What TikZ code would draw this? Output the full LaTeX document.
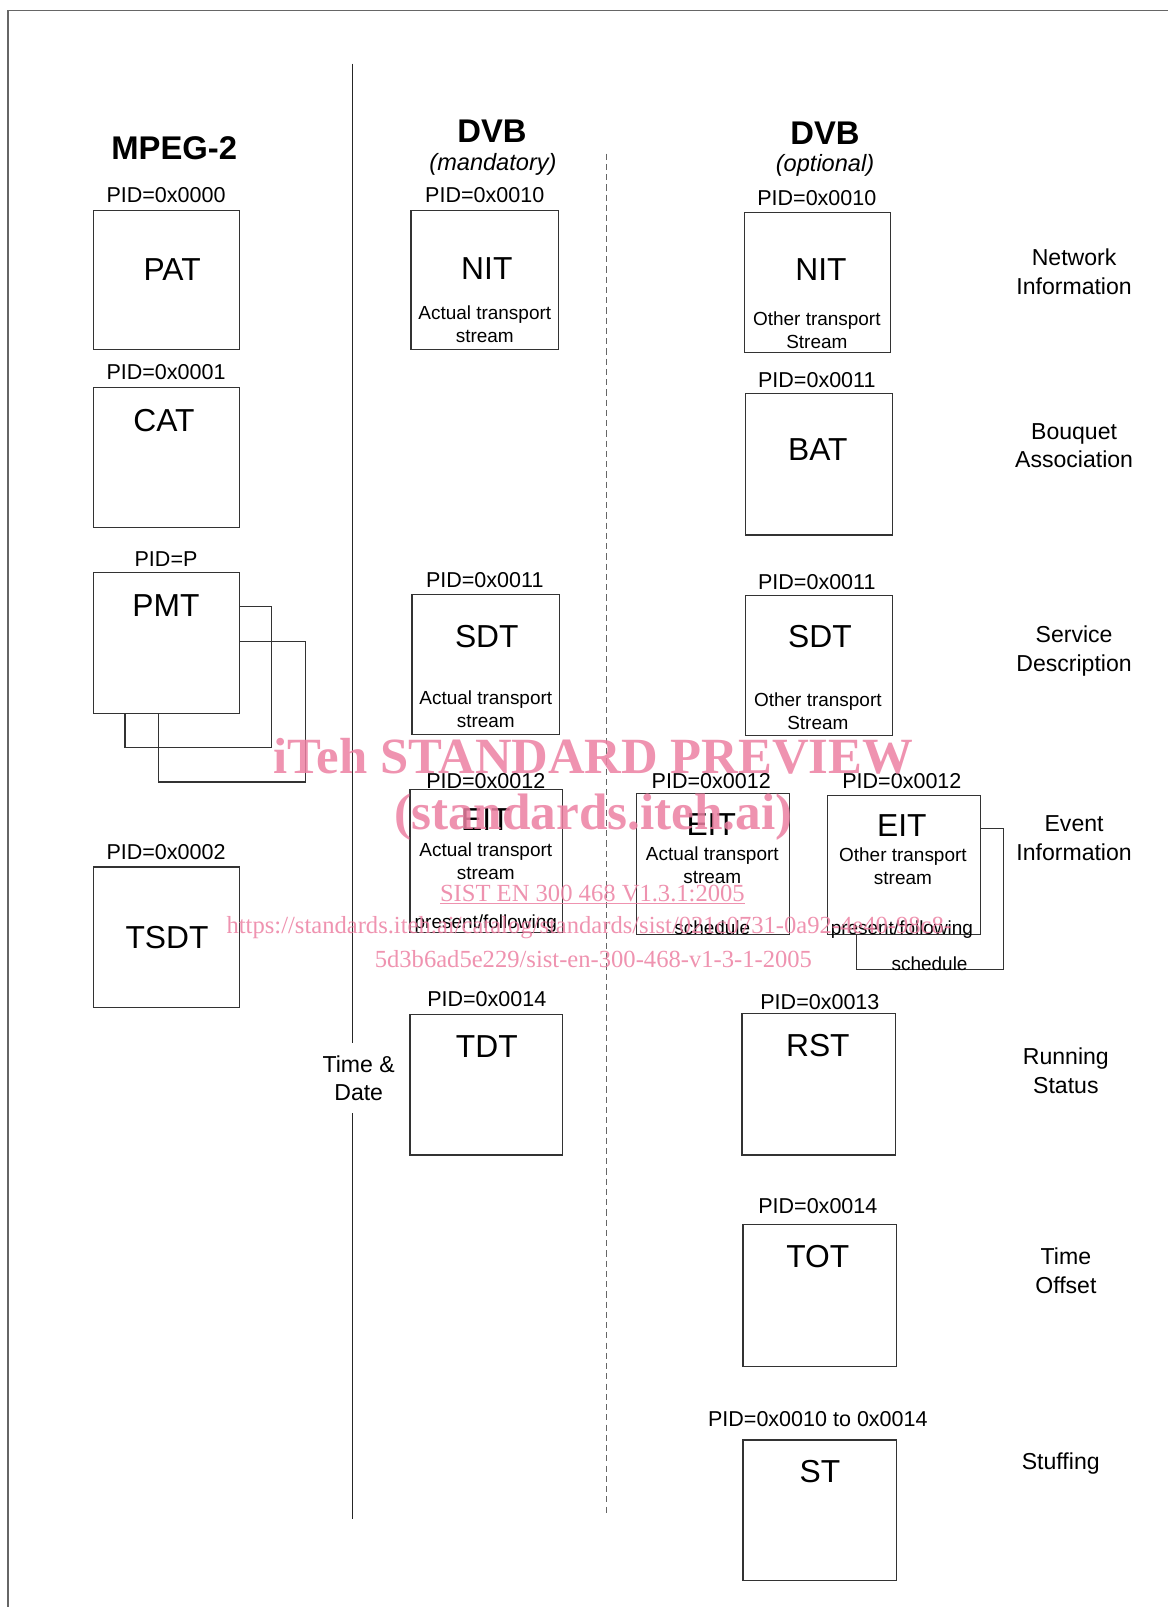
\documentclass[tikz,border=0pt]{standalone}
\usepackage{fontspec}
\setmainfont{Liberation Sans}
\newfontfamily\wmfont{Liberation Serif}
\definecolor{wmpink}{RGB}{236,128,162}
\tikzset{
  tbl/.style={draw=black!80, line width=1.1pt, inner sep=0pt, fill=white},
  pidlbl/.style={font=\fontsize{21}{25}\selectfont, inner sep=0pt},
  ttl/.style={font=\fontsize{31}{37}\selectfont, inner sep=0pt},
  sub/.style={font=\fontsize{18.5}{22.5}\selectfont, inner sep=0pt, align=center},
  side/.style={font=\fontsize{22.5}{28}\selectfont, inner sep=0pt, align=center},
  head/.style={font=\bfseries\fontsize{32}{38}\selectfont, inner sep=0pt},
  wmark/.style={text=wmpink, opacity=0.85, inner sep=0pt}
}
\begin{document}
\begin{tikzpicture}[x=1pt, y=-1pt]

    \useasboundingbox (0,0) rectangle (1140,1568);

    % frame
    \draw [black!60, line width=1.4pt] (8,1568) -- (8,10) -- (1140,10);

    % separators
    \draw [black!85, line width=1pt] (344,62) -- (344,1018);
    \draw [black!85, line width=1pt] (344,1086) -- (344,1482);
    \draw [black!60, line width=1pt, dash pattern=on 6pt off 4pt] (592,150) -- (592,1478);

    % headings
    \node [head] (hmpeg) at (170,145) {MPEG-2};
    \node [head] (hdvbm) at (480,128) {DVB};
    \node [side, font=\itshape\fontsize{23}{28}\selectfont] (hmand) at (481,160) {(mandatory)};
    \node [head] (hdvbo) at (805,130) {DVB};
    \node [side, font=\itshape\fontsize{23}{28}\selectfont] (hopt) at (805,161) {(optional)};

    % MPEG-2 tables
    \node [tbl, minimum width=143, minimum height=136] (pat) at (162.5,273) {};
    \node [pidlbl] at (162,190) {PID=0x0000};
    \node [ttl] at (168,263) {PAT};

    \node [tbl, minimum width=143, minimum height=137] (cat) at (162.5,446.5) {};
    \node [pidlbl] at (162,363) {PID=0x0001};
    \node [ttl] at (160,410) {CAT};

    %% PMT (stacked)
    \draw [tbl, fill=none] (155,626) rectangle (298,763);
    \draw [tbl, fill=none] (122,592) rectangle (265,729);
    \node [tbl, minimum width=143, minimum height=137] (pmt) at (162.5,627.5) {};
    \node [pidlbl] at (162,546) {PID=P};
    \node [ttl] at (162,591) {PMT};

    \node [tbl, minimum width=143, minimum height=137] (tsdt) at (162.5,914.5) {};
    \node [pidlbl] at (162,831) {PID=0x0002};
    \node [ttl] at (163,915) {TSDT};

    % DVB mandatory
    \node [tbl, minimum width=144, minimum height=136] (nita) at (473,273) {};
    \node [pidlbl] at (473,190) {PID=0x0010};
    \node [ttl] at (475,262) {NIT};
    \node [sub] at (473,316) {Actual transport\\stream};

    \node [tbl, minimum width=144, minimum height=137] (sdta) at (474,648.5) {};
    \node [pidlbl] at (473,566) {PID=0x0011};
    \node [ttl] at (475,621) {SDT};
    \node [sub] at (474,692) {Actual transport\\stream};

    \node [tbl, minimum width=149, minimum height=140] (eitpf) at (474.5,840) {};
    \node [pidlbl] at (474,762) {PID=0x0012};
    \node [ttl] at (474,800) {EIT};
    \node [sub] at (474,840) {Actual transport\\stream};
    \node [sub] at (474,901) {present/following};

    \node [tbl, minimum width=149, minimum height=138] (eitsc) at (695.5,843) {};
    \node [pidlbl] at (694,762) {PID=0x0012};
    \node [ttl] at (694,805) {EIT};
    \node [sub] at (695,844) {Actual transport\\stream};
    \node [sub] at (695,905) {schedule};

    \node [tbl, minimum width=149, minimum height=137] (tdt) at (474.5,1058.5) {};
    \node [pidlbl] at (475,975) {PID=0x0014};
    \node [ttl] at (475,1021) {TDT};
    \node [side] (td) at (350,1052) {Time \&\\Date};

    % DVB optional
    \node [tbl, minimum width=143, minimum height=137] (nito) at (797.5,275.5) {};
    \node [pidlbl] at (797,193) {PID=0x0010};
    \node [ttl] at (801,263) {NIT};
    \node [sub] at (797,322) {Other transport\\Stream};

    \node [tbl, minimum width=144, minimum height=138] (bat) at (799,453) {};
    \node [pidlbl] at (797,371) {PID=0x0011};
    \node [ttl] at (798,439) {BAT};

    \node [tbl, minimum width=144, minimum height=137] (sdto) at (799,649.5) {};
    \node [pidlbl] at (797,568) {PID=0x0011};
    \node [ttl] at (800,621) {SDT};
    \node [sub] at (798,694) {Other transport\\Stream};

    %% EIT other (stacked)
    \draw [tbl, fill=none] (957,808) -- (979,808) -- (979,946) -- (836,946) -- (836,912);
    \node [tbl, minimum width=150, minimum height=136] (eito) at (882,844) {};
    \node [pidlbl] at (880,762) {PID=0x0012};
    \node [ttl] at (880,806) {EIT};
    \node [sub] at (881,845) {Other transport\\stream};
    \node [sub] at (880,907) {present/following};
    \node [sub] at (907,940) {schedule};

    \node [tbl, minimum width=150, minimum height=138] (rst) at (799,1058) {};
    \node [pidlbl] at (800,978) {PID=0x0013};
    \node [ttl] at (798,1020) {RST};

    \node [tbl, minimum width=150, minimum height=138] (tot) at (800,1264) {};
    \node [pidlbl] at (798,1177) {PID=0x0014};
    \node [ttl] at (798,1226) {TOT};

    \node [tbl, minimum width=150, minimum height=137] (st) at (800,1473.5) {};
    \node [pidlbl] at (798,1385) {PID=0x0010 to 0x0014};
    \node [ttl] at (800,1436) {ST};

    % descriptions
    \node [side] (dnet) at (1048,265) {Network\\Information};
    \node [side] (dbou) at (1048,435) {Bouquet\\Association};
    \node [side] (dser) at (1048,635) {Service\\Description};
    \node [side] (deve) at (1048,818) {Event\\Information};
    \node [side] (drun) at (1040,1045) {Running\\Status};
    \node [side] (dtim) at (1040,1240) {Time\\Offset};
    \node [side] (dstu) at (1035,1428) {Stuffing};

    % watermark
    \node [wmark, font=\wmfont\bfseries\fontsize{49.5}{55}\selectfont] (wm1) at (579,738) {iTeh STANDARD PREVIEW};
    \node [wmark, font=\wmfont\bfseries\fontsize{50}{55}\selectfont] (wm2) at (579,797) {(standards.iteh.ai)};
    \node [wmark, font=\wmfont\fontsize{24}{28}\selectfont] (wm3) at (578,873) {\underline{SIST EN 300 468 V1.3.1:2005}};
    \node [wmark, font=\wmfont\fontsize{24}{28}\selectfont] (wm4) at (575,905) {https://standards.iteh.ai/catalog/standards/sist/021c0731-0a92-4e40-98c8-};
    \node [wmark, font=\wmfont\fontsize{24}{28}\selectfont] (wm5) at (579,936) {5d3b6ad5e229/sist-en-300-468-v1-3-1-2005};

\end{tikzpicture}
\end{document}
